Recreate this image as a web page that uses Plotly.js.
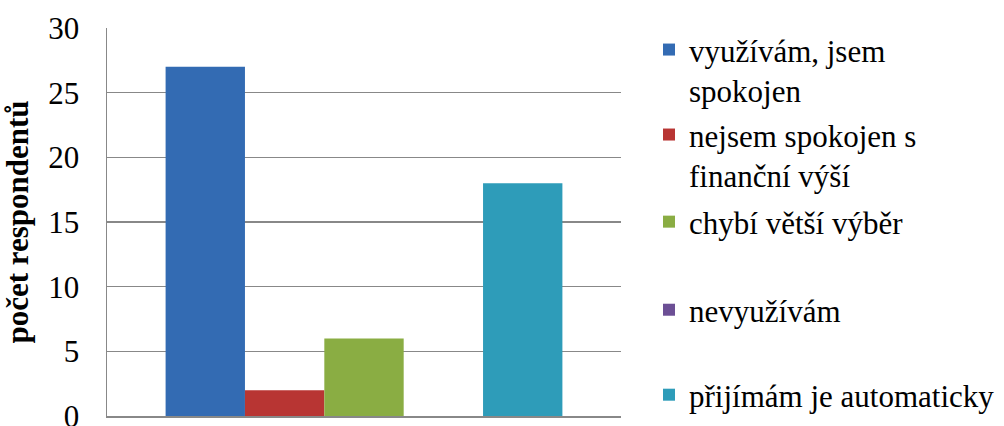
<!DOCTYPE html>
<html>
<head>
<meta charset="utf-8">
<script src="https://cdn.plot.ly/plotly-3.0.1.min.js"></script>
<style>html,body{margin:0;padding:0;background:#fff;}#chart{width:1004px;height:426px;}</style>
</head>
<body>
<div id="chart"></div>
<script>
const category = [''];
const seriesNames = ['využívám, jsem<br>spokojen', 'nejsem spokojen s<br>finanční výší', 'chybí větší výběr', 'nevyužívám', 'přijímám je automaticky'];
const seriesValues = [27, 2, 6, 0, 18];
const seriesColors = ['#336bb3', '#b83533', '#8aad43', '#6c4f95', '#2e9cb9'];
const legendY = [0.892, 0.673, 0.50, 0.273, 0.054];

const font = '"Liberation Serif", "Times New Roman", serif';
const traces = seriesNames.map((n, i) => ({
  type: 'bar',
  x: category,
  y: [seriesValues[i]],
  name: n,
  marker: {color: seriesColors[i], line: {width: 0}},
  legend: i === 0 ? 'legend' : 'legend' + (i + 1),
  hoverinfo: 'skip'
}));

const layout = {
  width: 1004, height: 426,
  margin: {l: 107, r: 383, t: 28, b: 10, autoexpand: false},
  paper_bgcolor: '#fff', plot_bgcolor: '#fff',
  barmode: 'group', bargap: 0.228, bargroupgap: 0,
  font: {family: font, size: 31, color: '#000'},
  xaxis: {showticklabels: false, showgrid: false, zeroline: false, showline: true, linecolor: '#888888', linewidth: 1.5, fixedrange: true, automargin: false},
  yaxis: {range: [0, 30], dtick: 5, tick0: 0, showgrid: true, gridcolor: '#888888', gridwidth: 1.3,
          zeroline: false, showline: true, linecolor: '#888888', linewidth: 1.5, ticks: '', ticklabelstandoff: 20,
          ticklabeloverflow: 'allow',
          tickfont: {family: font, size: 31, color: '#000'}, automargin: false,
          title: {text: 'počet respondentů', font: {family: font, size: 31, color: '#000', weight: 'bold'}, standoff: 13},
          fixedrange: true},
  showlegend: true
};
legendY.forEach((y, i) => {
  const key = i === 0 ? 'legend' : 'legend' + (i + 1);
  layout[key] = {x: 1.0545, xanchor: 'left', y: y, yanchor: 'middle', bgcolor: 'rgba(0,0,0,0)',
    font: {family: font, size: 31, color: '#000'}, valign: 'top', borderwidth: 0};
});

Plotly.newPlot('chart', traces, layout, {displayModeBar: false, staticPlot: true});
</script>
</body>
</html>
